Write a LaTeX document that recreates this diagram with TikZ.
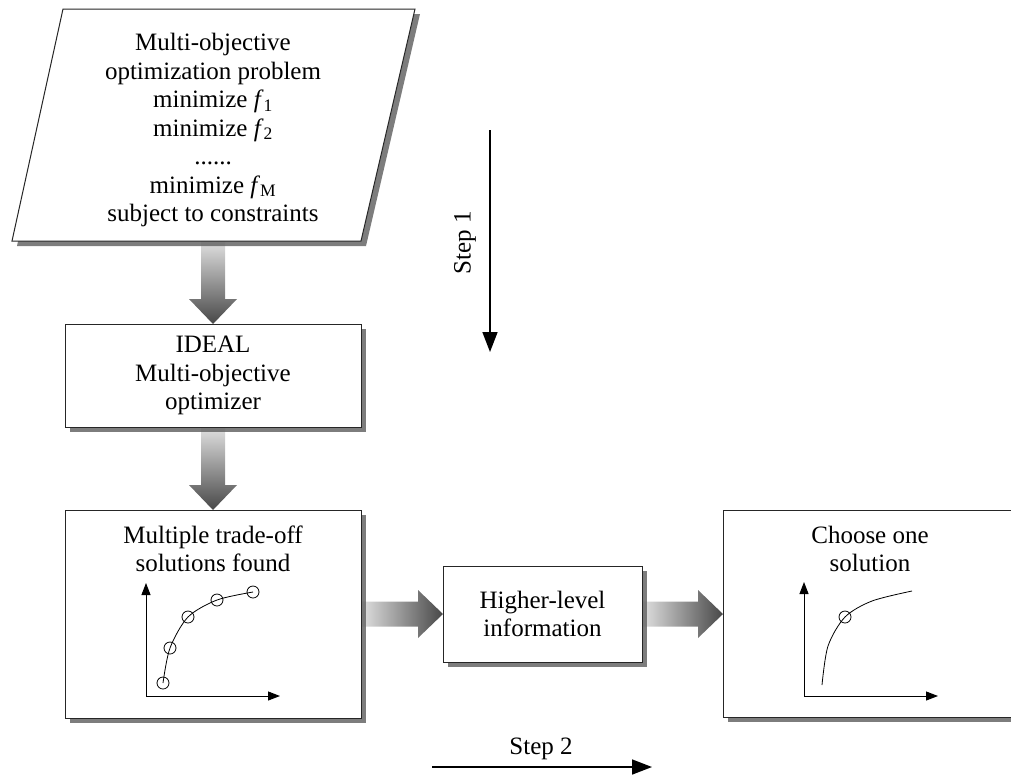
\documentclass[tikz,border=0pt]{standalone}
\usepackage{fontspec}
\setmainfont{Liberation Serif}
\usetikzlibrary{calc,arrows.meta,shadows}
\tikzset{
  shad/.style={drop shadow={shadow xshift=5pt,shadow yshift=-5pt,fill=black!60,opacity=0.85}},
  box/.style={draw=black!85, line width=1pt, fill=white, inner sep=0pt, shad},
  txt/.style={font=\fontsize{25}{28.5}\selectfont, align=center, inner sep=0pt},
  vshade/.style={top color=black!12, bottom color=black!72},
  hshade/.style={left color=black!12, right color=black!72},
  axis/.style={line width=1pt, -{Triangle[length=12pt,width=9pt]}},
  curve/.style={line width=0.8pt},
  dot/.style={draw, line width=0.8pt, circle, minimum size=12pt, inner sep=0pt},
  steparrow/.style={line width=1.6pt, -{Triangle[length=20pt,width=15pt]}},
}
\newcommand\vblock[2]{%
  \path[vshade] let \p1=(#1), \p2=(#2) in
    (\x1-12pt,\y1) -- (\x1+12pt,\y1) -- (\x1+12pt,\y2+25pt) -- (\x1+24pt,\y2+25pt)
    -- (\x1,\y2) -- (\x1-24pt,\y2+25pt) -- (\x1-12pt,\y2+25pt) -- cycle;}
\newcommand\hblock[2]{%
  \path[hshade] let \p1=(#1), \p2=(#2) in
    (\x1,\y1-12.5pt) -- (\x2-25pt,\y1-12.5pt) -- (\x2-25pt,\y1-24pt) -- (\x2,\y1)
    -- (\x2-25pt,\y1+24pt) -- (\x2-25pt,\y1+12.5pt) -- (\x1,\y1+12.5pt) -- cycle;}
\begin{document}
\begin{tikzpicture}[x=1pt,y=-1pt]
\useasboundingbox (0,0) rectangle (1011,774);
% block arrows first (behind boxes)
\coordinate (pb) at (213,241);
\coordinate (idealN) at (213,324);
\coordinate (idealS) at (213,427);
\coordinate (multiN) at (213,510);
\coordinate (multiE) at (361,614);
\coordinate (infoW) at (443,614);
\coordinate (infoE) at (642,614);
\coordinate (chooseW) at (723,614);
\vblock{pb}{idealN}
\vblock{idealS}{multiN}
\hblock{multiE}{infoW}
\hblock{infoE}{chooseW}
% boxes
\draw[box] (12,241) -- (63,9) -- (415,9) -- (361,241) -- cycle;
\node[txt] (prob) at (213,130) {Multi-objective\\optimization problem\\minimize \textit{f}\textsubscript{1}\\minimize \textit{f}\textsubscript{2}\\......\\minimize \textit{f}\textsubscript{M}\\subject to constraints};
\node[box, minimum width=296pt, minimum height=103pt, txt] (ideal) at (213,375.5) {IDEAL\\Multi-objective\\optimizer};
\node[box, minimum width=296pt, minimum height=208pt] (multi) at (213,614) {};
\node[box, minimum width=199pt, minimum height=96pt, txt] (info) at (542.5,614) {Higher-level\\information};
\node[box, minimum width=302pt, minimum height=207pt] (choose) at (874,613.5) {};
\node[txt] (multitxt) at (213,549) {Multiple trade-off\\solutions found};
\node[txt] (choosetxt) at (870,549) {Choose one\\solution};
% plot 1
\coordinate (o1) at (146,696);
\coordinate (y1) at (146,583);
\coordinate (x1) at (280,696);
\draw[axis] (o1) -- (y1);
\draw[axis] (o1) -- (x1);
\draw[curve] plot[smooth] coordinates {(163,683) (170,648) (188,617) (217,600) (253,592)};
\node[dot] (d1) at (163,683) {};
\node[dot] (d2) at (170,648) {};
\node[dot] (d3) at (188,617) {};
\node[dot] (d4) at (217,600) {};
\node[dot] (d5) at (253,592) {};
% plot 2
\coordinate (o2) at (804,696);
\coordinate (y2) at (804,582);
\coordinate (x2) at (938,696);
\draw[axis] (o2) -- (y2);
\draw[axis] (o2) -- (x2);
\draw[curve] plot[smooth] coordinates {(822,685) (828,646) (845,617) (872,601) (912,591)};
\node[dot] (c1) at (845,617) {};
% steps
\node[txt, rotate=90] (s1) at (465,243) {Step 1};
\coordinate (s1a) at (490,130);
\coordinate (s1b) at (490,352);
\draw[steparrow] (s1a) -- (s1b);
\node[txt] (s2) at (541,749) {Step 2};
\coordinate (s2a) at (432,767);
\coordinate (s2b) at (652,767);
\draw[steparrow] (s2a) -- (s2b);
\end{tikzpicture}
\end{document}
